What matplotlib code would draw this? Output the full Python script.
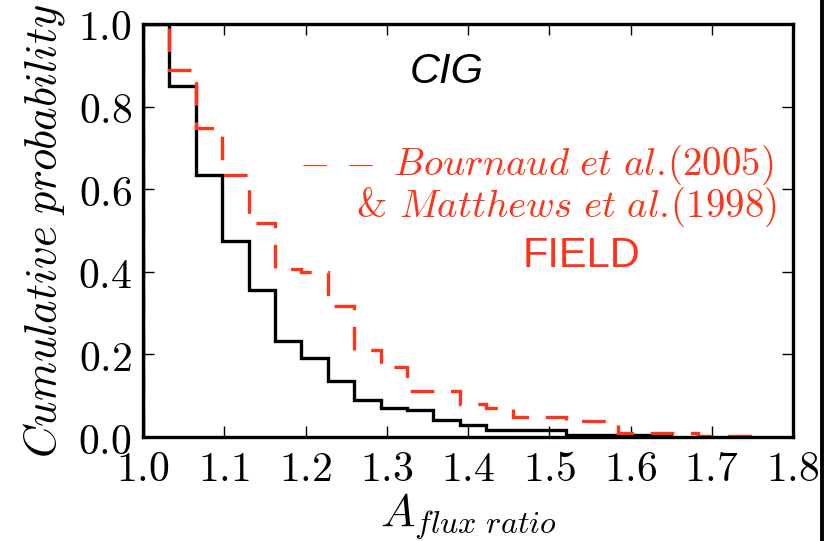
import matplotlib
matplotlib.use('Agg')
import matplotlib.pyplot as plt
from matplotlib.lines import Line2D
from matplotlib.ticker import FuncFormatter

plt.rcParams['mathtext.fontset'] = 'cm'
plt.rcParams['lines.scale_dashes'] = False

# ---- data ----
bin_edges = [1.0, 1.0325, 1.065, 1.0975, 1.13, 1.1625, 1.195, 1.2275, 1.26,
             1.2925, 1.325, 1.3575, 1.39, 1.4225, 1.455, 1.4875, 1.52, 1.5525,
             1.585, 1.6175, 1.65, 1.6825, 1.715, 1.7475]
cig_values = [1.0, 0.85, 0.634, 0.475, 0.356, 0.232, 0.191, 0.136, 0.090, 0.071,
              0.066, 0.042, 0.028, 0.016, 0.016, 0.016, 0.005, 0.005, 0.005, 0.005]
field_values = [1.0, 0.889, 0.748, 0.634, 0.519, 0.406, 0.399, 0.316, 0.211, 0.170,
                0.111, 0.111, 0.079, 0.070, 0.049, 0.049, 0.038, 0.038, 0.009, 0.009,
                0.009, 0.003, 0.003]
x_ticks = [1.0, 1.1, 1.2, 1.3, 1.4, 1.5, 1.6, 1.7, 1.8]
y_ticks = [0.0, 0.2, 0.4, 0.6, 0.8, 1.0]

RED = '#ff3318'
W, H = 825, 541

fig = plt.figure(figsize=(W / 100, H / 100), dpi=100)
ax = fig.add_axes([143 / W, 1 - 437 / H, (793 - 143) / W, (437 - 24) / H])

ax.stairs(cig_values, bin_edges[:len(cig_values) + 1], baseline=0,
          color='black', linewidth=2.4, zorder=2.1)
ax.stairs(field_values, bin_edges[:len(field_values) + 1], baseline=0,
          color=RED, linewidth=2.4, linestyle=(0, (17, 12)), zorder=2.2)

ax.set_xlim(1.0, 1.8)
ax.set_ylim(0.0, 1.0)
ax.set_xticks(x_ticks)
ax.set_yticks(y_ticks)
fmt = FuncFormatter(lambda v, p: r'$%.1f$' % v)
ax.xaxis.set_major_formatter(fmt)
ax.yaxis.set_major_formatter(fmt)
ax.tick_params(direction='in', length=8, width=1, labelsize=30,
               top=True, right=True, pad=8)
for s in ax.spines.values():
    s.set_linewidth(2.4)
    s.set_zorder(3)

ax.set_ylabel(r'$Cumulative\ probability$', fontsize=32, labelpad=8)
ax.set_xlabel(r'$A_{flux\ ratio}$', fontsize=33, labelpad=1)

fig.text(447 / W, 1 - 72 / H, 'CIG', fontsize=30, style='italic',
         family='Liberation Sans', ha='center', va='center', color='black')
fig.text(773 / W, 1 - 165 / H, r'$-\;-\ Bournaud\ et\ al.\!(2005)$', fontsize=28,
         ha='right', va='center', color=RED)
fig.text(777 / W, 1 - 207 / H, r'& $Matthews\ et\ al.\!(1998)$', fontsize=28,
         family='cmr10', ha='right', va='center', color=RED)
fig.text(581 / W, 1 - 256 / H, 'FIELD', fontsize=30, family='Liberation Sans',
         ha='center', va='center', color=RED)

fig.add_artist(Line2D([821.5 / W, 821.5 / W], [0, 1], transform=fig.transFigure,
                      color='black', linewidth=2.8))

fig.savefig('out.png', dpi=100)
